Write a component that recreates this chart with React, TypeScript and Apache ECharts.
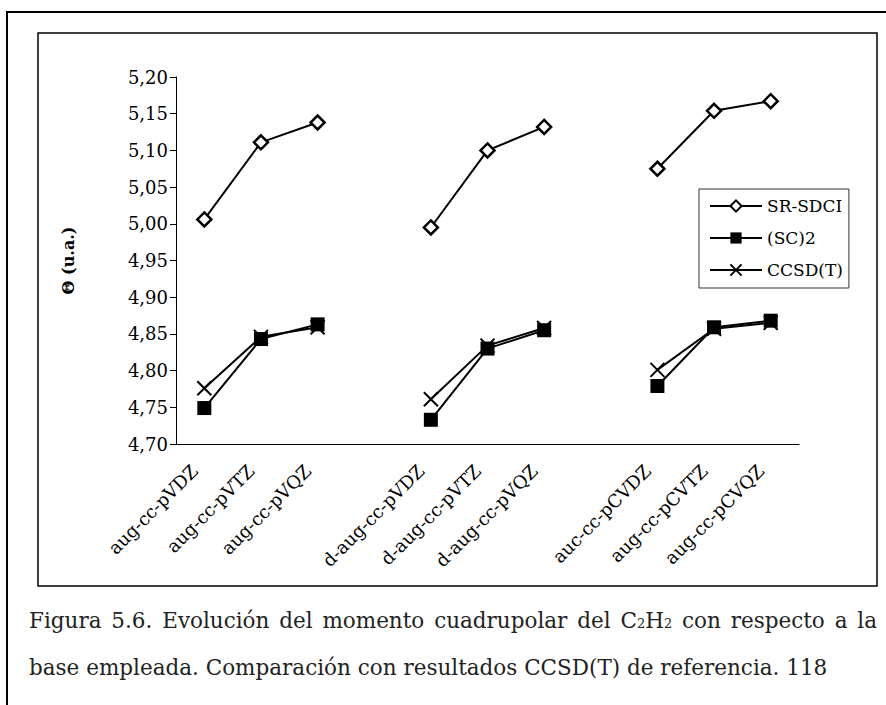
import React, { useEffect, useRef } from "react";
import * as echarts from "echarts";

const categories = [
  "aug-cc-pVDZ", "aug-cc-pVTZ", "aug-cc-pVQZ", " ",
  "d-aug-cc-pVDZ", "d-aug-cc-pVTZ", "d-aug-cc-pVQZ", "  ",
  "auc-cc-pCVDZ", "aug-cc-pCVTZ", "aug-cc-pCVQZ",
];
const srSdci = [5.006, 5.111, 5.138, null, 4.995, 5.100, 5.132, null, 5.075, 5.154, 5.167];
const sc2 = [4.749, 4.843, 4.863, null, 4.733, 4.830, 4.855, null, 4.779, 4.859, 4.868];
const ccsdt = [4.776, 4.846, 4.859, null, 4.761, 4.834, 4.858, null, 4.801, 4.857, 4.865];
const seriesNames = ["SR-SDCI", "(SC)2", "CCSD(T)"];
const yTicks = { min: 4.7, max: 5.2, interval: 0.05 };
const yName = "Θ (u.a.)";
const captionLine1a = "Figura 5.6. Evolución del momento cuadrupolar del C";
const captionLine1b = " con respecto a la";
const captionLine2 = "base empleada. Comparación con resultados CCSD(T) de referencia. 118";

const SERIF = "'DejaVu Serif', 'Liberation Serif', serif";
const CAP_SIZE = 21.5;
const SUB_SIZE = 13;

function measure(text: string, size: number): number {
  const c = document.createElement("canvas");
  const ctx = c.getContext("2d");
  if (!ctx) return text.length * size * 0.55;
  ctx.font = `${size}px ${SERIF}`;
  return ctx.measureText(text).width;
}

export default function App() {
  const ref = useRef<HTMLDivElement>(null);
  useEffect(() => {
    if (!ref.current) return;
    const chart = echarts.init(ref.current, undefined, { renderer: "svg" });
    const lineStyle = { color: "#000", width: 2 };

    // justify caption line 1 to the target width
    const targetW = 848;
    const natural =
      measure(captionLine1a + "H" + captionLine1b, CAP_SIZE) + 2 * measure("2", SUB_SIZE);
    const spaceW = measure(" ", CAP_SIZE);
    const nSpaces = (captionLine1a + captionLine1b).split(" ").length - 1;
    const extra = Math.max(0, targetW - natural);
    const wSpace = spaceW + extra / nSpaces;
    const toRich = (s: string) =>
      s
        .split(" ")
        .map((w) => (w ? "{n|" + w + "}" : ""))
        .join("{w| }");
    const line1 =
      toRich(captionLine1a) + "{s|2}{n|H}{s|2}" + toRich(captionLine1b);

    chart.setOption({
      animation: false,
      backgroundColor: "#fff",
      grid: { left: 176, right: 87, top: 77, bottom: 261, containLabel: false },
      legend: {
        orient: "vertical",
        left: 699,
        top: 189,
        width: 150,
        backgroundColor: "#fff",
        borderColor: "#333",
        borderWidth: 1,
        padding: [7, 6, 8, 10],
        itemWidth: 52,
        itemHeight: 14,
        itemGap: 12,
        textStyle: { fontFamily: SERIF, fontSize: 17, color: "#000", lineHeight: 20 },
        data: seriesNames,
      },
      xAxis: {
        type: "category",
        data: categories,
        boundaryGap: true,
        axisLine: { lineStyle: { color: "#000", width: 1 } },
        axisTick: { interval: 0, length: 6, lineStyle: { color: "#000" } },
        axisLabel: {
          interval: 0,
          rotate: 45,
          margin: 14,
          padding: [0, 14, 0, 0],
          fontFamily: SERIF,
          fontSize: 18,
          color: "#000",
        },
        splitLine: { show: false },
      },
      yAxis: {
        type: "value",
        min: yTicks.min,
        max: yTicks.max,
        interval: yTicks.interval,
        name: yName,
        nameLocation: "middle",
        nameGap: 100,
        nameRotate: 90,
        nameTextStyle: { fontFamily: SERIF, fontSize: 16, fontWeight: "bold", color: "#000" },
        axisLine: { show: true, lineStyle: { color: "#000", width: 1 } },
        axisTick: { show: true, length: 6, lineStyle: { color: "#000" } },
        axisLabel: {
          margin: 8,
          fontFamily: SERIF,
          fontSize: 18,
          color: "#000",
          formatter: (v: number) => v.toFixed(2).replace(".", ","),
        },
        splitLine: { show: false },
      },
      series: [
        {
          name: seriesNames[0],
          type: "line",
          data: srSdci,
          connectNulls: false,
          symbol: "diamond",
          symbolSize: 14,
          showAllSymbol: true,
          lineStyle,
          itemStyle: { color: "#fff", borderColor: "#000", borderWidth: 2.5 },
          z: 3,
        },
        {
          name: seriesNames[1],
          type: "line",
          data: sc2,
          connectNulls: false,
          symbol: "rect",
          symbolSize: 14,
          showAllSymbol: true,
          lineStyle,
          itemStyle: { color: "#000", borderColor: "#000", borderWidth: 0 },
          z: 4,
        },
        {
          name: seriesNames[2],
          type: "line",
          data: ccsdt,
          connectNulls: false,
          symbol: "path://M0,0L10,10M10,0L0,10",
          symbolSize: 14,
          showAllSymbol: true,
          lineStyle,
          itemStyle: { color: "none", borderColor: "#000", borderWidth: 2 },
          z: 5,
        },
      ],
      graphic: [
        {
          type: "rect",
          shape: { x: 7, y: 12, width: 900, height: 720 },
          style: { fill: "none", stroke: "#000", lineWidth: 2 },
          silent: true,
          z: -10,
        },
        {
          type: "rect",
          shape: { x: 38, y: 33, width: 839, height: 553 },
          style: { fill: "none", stroke: "#000", lineWidth: 1.5 },
          silent: true,
          z: -10,
        },
        {
          type: "text",
          x: 29,
          y: 620,
          style: {
            text: line1,
            rich: {
              n: { fontFamily: SERIF, fontSize: CAP_SIZE, fill: "#222" },
              w: { fontFamily: SERIF, fontSize: CAP_SIZE, fill: "#222", width: wSpace },
              s: { fontFamily: SERIF, fontSize: SUB_SIZE, fill: "#222", padding: [7, 0, 0, 0] },
            },
            verticalAlign: "middle",
          },
        },
        {
          type: "text",
          x: 29,
          y: 667,
          style: {
            text: captionLine2,
            fontFamily: SERIF,
            fontSize: CAP_SIZE,
            fill: "#222",
            verticalAlign: "middle",
          },
        },
      ],
    });
    return () => chart.dispose();
  }, []);
  return (
    <div
      ref={ref}
      style={{ position: "absolute", left: 0, top: 0, width: 886, height: 705 }}
    />
  );
}
